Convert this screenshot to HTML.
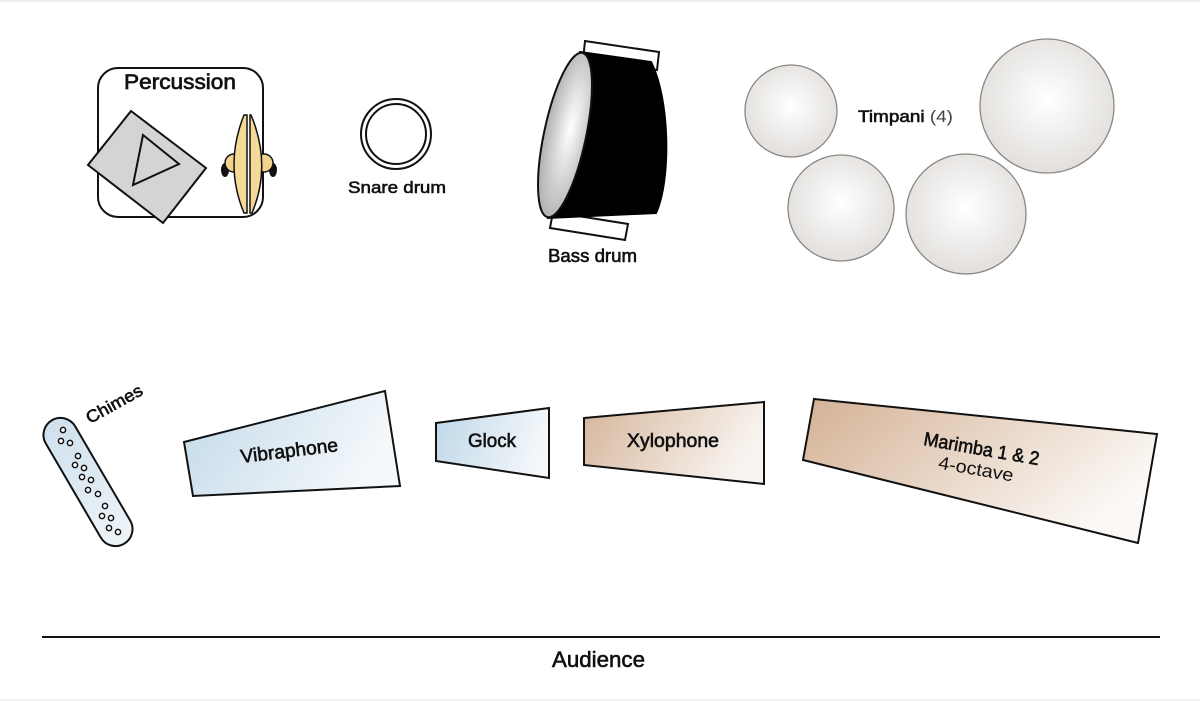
<!DOCTYPE html>
<html><head><meta charset="utf-8"><style>
html,body{margin:0;padding:0;background:#fff;}
svg{display:block;}
text{font-family:"Liberation Sans",sans-serif;fill:#111;}
</style></head><body>
<svg width="1200" height="701" viewBox="0 0 1200 701" xmlns="http://www.w3.org/2000/svg">
<defs>
<radialGradient id="tim" cx="50%" cy="45%" r="55%">
<stop offset="0" stop-color="#ffffff"/><stop offset="1" stop-color="#e2dfdc"/>
</radialGradient>
<radialGradient id="head" cx="60%" cy="45%" r="60%">
<stop offset="0" stop-color="#ffffff"/><stop offset="1" stop-color="#b0b0b0"/>
</radialGradient>
<linearGradient id="vib" x1="0" y1="0" x2="1" y2="0.3">
<stop offset="0" stop-color="#c3d9e9"/><stop offset="1" stop-color="#f4f8fb"/>
</linearGradient>
<linearGradient id="glk" x1="0" y1="0" x2="1" y2="0.2">
<stop offset="0" stop-color="#c0d7e8"/><stop offset="1" stop-color="#f3f7fa"/>
</linearGradient>
<linearGradient id="xyl" x1="0" y1="0" x2="1" y2="0.3">
<stop offset="0" stop-color="#d5b59a"/><stop offset="1" stop-color="#f8f3ef"/>
</linearGradient>
<linearGradient id="mar" x1="0" y1="0" x2="1" y2="0.5">
<stop offset="0" stop-color="#d4b194"/><stop offset="1" stop-color="#fbf8f5"/>
</linearGradient>
<linearGradient id="chm" x1="0" y1="0" x2="1" y2="0">
<stop offset="0" stop-color="#cfe0ed"/><stop offset="1" stop-color="#edf4f8"/>
</linearGradient>
</defs>
<rect x="0" y="0" width="1200" height="2" fill="#eeeeee"/>
<rect x="0" y="699" width="1200" height="2" fill="#f2f2f2"/>

<!-- Percussion box -->
<rect x="98" y="68" width="165" height="149" rx="20" ry="20" fill="#fff" stroke="#111" stroke-width="2"/>
<text x="124" y="89" font-size="21" textLength="112" lengthAdjust="spacingAndGlyphs" stroke="#111" stroke-width="0.7">Percussion</text>
<polygon points="131,111 206,168 163,223 88,165" fill="#d4d4d4" stroke="#111" stroke-width="2"/>
<polygon points="143,135 179,164 133,185" fill="#d4d4d4" stroke="#111" stroke-width="2"/>
<!-- cymbals -->
<ellipse cx="225" cy="170" rx="4" ry="7" fill="#111"/>
<ellipse cx="273" cy="170" rx="4" ry="7" fill="#111"/>
<circle cx="234" cy="163" r="9" fill="#f3d48e" stroke="#111" stroke-width="1.5"/>
<circle cx="264" cy="163" r="9" fill="#f3d48e" stroke="#111" stroke-width="1.5"/>
<path d="M244,115 Q224,165 244,213 L247,213 L247,115 Z" fill="#f5d995" stroke="#111" stroke-width="1.5"/>
<path d="M251,115 Q272,165 252,213 L250,213 L250,115 Z" fill="#f5d995" stroke="#111" stroke-width="1.5"/>

<!-- Snare -->
<circle cx="396" cy="134" r="35" fill="#fff" stroke="#111" stroke-width="2"/>
<circle cx="396" cy="134" r="30" fill="#fff" stroke="#111" stroke-width="2"/>
<text x="348" y="193" font-size="17" textLength="98" lengthAdjust="spacingAndGlyphs" stroke="#111" stroke-width="0.6">Snare drum</text>

<!-- Bass drum -->
<polygon points="585,41 659,52 657,70 583,60" fill="#fff" stroke="#111" stroke-width="2"/>
<polygon points="553,212 628,224 625,240 550,228" fill="#fff" stroke="#111" stroke-width="2"/>
<path d="M580,52 L651,62 C670,100 671,180 656,213 L548,218 Z" fill="#000" stroke="#000" stroke-width="2"/>
<ellipse cx="565" cy="135" rx="21" ry="84" transform="rotate(12 565 135)" fill="url(#head)" stroke="#111" stroke-width="2"/>
<text x="548" y="262" font-size="18" textLength="89" lengthAdjust="spacingAndGlyphs" stroke="#111" stroke-width="0.6">Bass drum</text>

<!-- Timpani -->
<circle cx="791" cy="111" r="46" fill="url(#tim)" stroke="#8a8683" stroke-width="1.3"/>
<circle cx="841" cy="208" r="53" fill="url(#tim)" stroke="#8a8683" stroke-width="1.3"/>
<circle cx="966" cy="214" r="60" fill="url(#tim)" stroke="#8a8683" stroke-width="1.3"/>
<circle cx="1047" cy="106" r="67" fill="url(#tim)" stroke="#8a8683" stroke-width="1.3"/>
<text x="858" y="122" font-size="17" textLength="95" lengthAdjust="spacingAndGlyphs" stroke="#111" stroke-width="0.6">Timpani <tspan fill="#444" stroke="none">(4)</tspan></text>

<!-- Chimes -->
<g transform="translate(88 482) rotate(59.7)">
<rect x="-71.5" y="-17" width="143" height="34" rx="17" ry="17" fill="url(#chm)" stroke="#111" stroke-width="2"/>
</g>
<g fill="#fff" stroke="#111" stroke-width="1.5">
<circle cx="63" cy="430" r="2.6"/><circle cx="61" cy="441" r="2.6"/><circle cx="70" cy="443" r="2.6"/>
<circle cx="78" cy="456" r="2.6"/><circle cx="75" cy="465" r="2.6"/><circle cx="84" cy="468" r="2.6"/>
<circle cx="82" cy="477" r="2.6"/><circle cx="91" cy="480" r="2.6"/><circle cx="88" cy="490" r="2.6"/>
<circle cx="98" cy="494" r="2.6"/><circle cx="105" cy="506" r="2.6"/><circle cx="102" cy="516" r="2.6"/>
<circle cx="111" cy="518" r="2.6"/><circle cx="109" cy="528" r="2.6"/><circle cx="118" cy="532" r="2.6"/>
</g>
<text x="-31" y="0" font-size="17" textLength="62" lengthAdjust="spacingAndGlyphs" transform="translate(117 409) rotate(-29)" stroke="#111" stroke-width="0.6">Chimes</text>

<!-- Vibraphone -->
<polygon points="184,442 385,391 400,486 193,496" fill="url(#vib)" stroke="#111" stroke-width="2"/>
<text x="-49" y="0" font-size="19" textLength="98" lengthAdjust="spacingAndGlyphs" transform="translate(290 457) rotate(-7)" stroke="#111" stroke-width="0.6">Vibraphone</text>

<!-- Glock -->
<polygon points="436,423 549,408 549,478 436,461" fill="url(#glk)" stroke="#111" stroke-width="2"/>
<text x="468" y="447" font-size="19" textLength="48" lengthAdjust="spacingAndGlyphs" stroke="#111" stroke-width="0.6">Glock</text>

<!-- Xylophone -->
<polygon points="584,418 764,402 764,484 584,465" fill="url(#xyl)" stroke="#111" stroke-width="2"/>
<text x="627" y="447" font-size="19" textLength="92" lengthAdjust="spacingAndGlyphs" stroke="#111" stroke-width="0.6">Xylophone</text>

<!-- Marimba -->
<polygon points="814,399 1157,434 1138,543 803,460" fill="url(#mar)" stroke="#111" stroke-width="2"/>
<text x="-58" y="0" font-size="19" textLength="117" lengthAdjust="spacingAndGlyphs" transform="translate(980 455) rotate(10)" stroke="#111" stroke-width="0.6">Marimba 1 &amp; 2</text>
<text x="-38" y="0" font-size="18" textLength="76" lengthAdjust="spacingAndGlyphs" fill="#333" transform="translate(975 475) rotate(10)">4-octave</text>

<!-- Audience -->
<rect x="42" y="636" width="1118" height="2" fill="#111"/>
<text x="552" y="667" font-size="22" textLength="93" lengthAdjust="spacingAndGlyphs" stroke="#111" stroke-width="0.6">Audience</text>
</svg>
</body></html>
